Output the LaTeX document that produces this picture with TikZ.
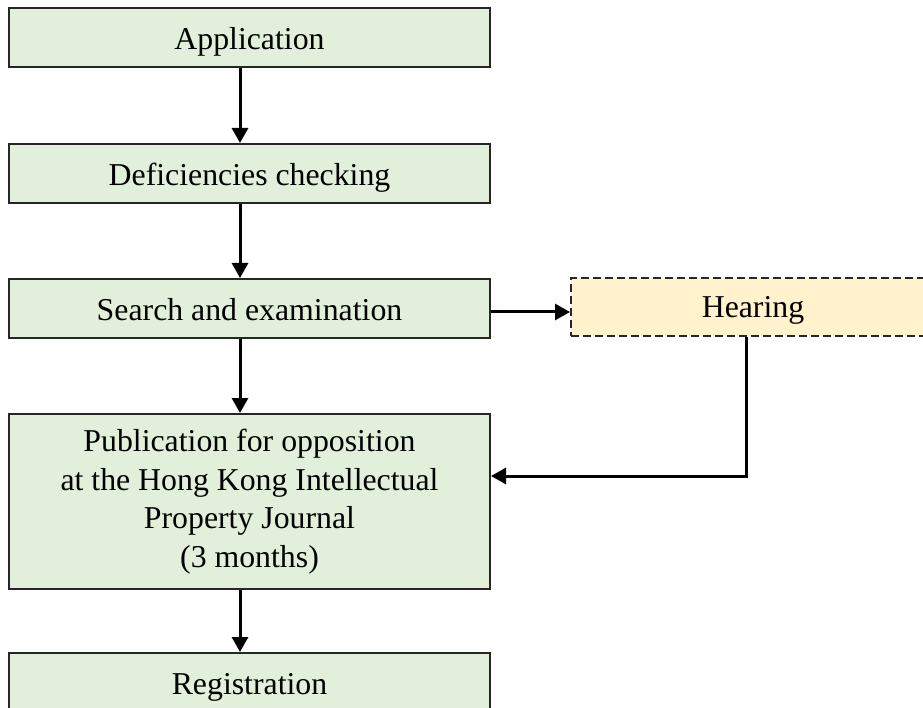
\documentclass[tikz,border=0pt]{standalone}
\usepackage{fontspec}
\setmainfont{Liberation Serif}
\usetikzlibrary{arrows.meta}
\definecolor{boxgreen}{HTML}{E2EFDA}
\definecolor{boxyellow}{HTML}{FFF2CC}
\begin{document}
\begin{tikzpicture}[x=1pt,y=-1pt,
  stepbox/.style={draw=black!85, line width=2pt, fill=boxgreen, anchor=north west,
    minimum width=481pt, minimum height=59pt, inner sep=0pt, align=center,
    font=\fontsize{31.8}{38.5}\selectfont},
  oneline/.style={text height=26pt, text depth=2pt},
  hearbox/.style={stepbox, fill=boxyellow, dash pattern=on 8pt off 4pt, minimum width=364pt, minimum height=58pt},
  conn/.style={line width=3pt, -{Triangle[length=15pt,width=16pt]}}]
\useasboundingbox (0,0) rectangle (923,708);
\clip (0,0) rectangle (923,708);
\node[stepbox, oneline] (app) at (8,7) {Application};
\node[stepbox, oneline] (def) at (8,143) {Deficiencies checking};
\node[stepbox, oneline] (srch) at (8,278) {Search and examination};
\node[hearbox, text height=24pt, text depth=3pt] (hear) at (570,277) {Hearing};
\node[stepbox, minimum height=175pt] (pub) at (8,413) {Publication for opposition\\at the Hong Kong Intellectual\\Property Journal\\(3 months)};
\node[stepbox, oneline] (reg) at (8,652) {Registration};
\coordinate (col) at (240,0);
\coordinate (row) at (0,312);
\coordinate (turn) at (746,476);
\draw[conn] (app.south -| col) -- (def.north -| col);
\draw[conn] (def.south -| col) -- (srch.north -| col);
\draw[conn] (srch.south -| col) -- (pub.north -| col);
\draw[conn] (pub.south -| col) -- (reg.north -| col);
\draw[conn] (srch.east |- row) -- (hear.west |- row);
\draw[conn] (hear.south -| turn) -- (turn) -- (pub.east |- turn);
\end{tikzpicture}
\end{document}
